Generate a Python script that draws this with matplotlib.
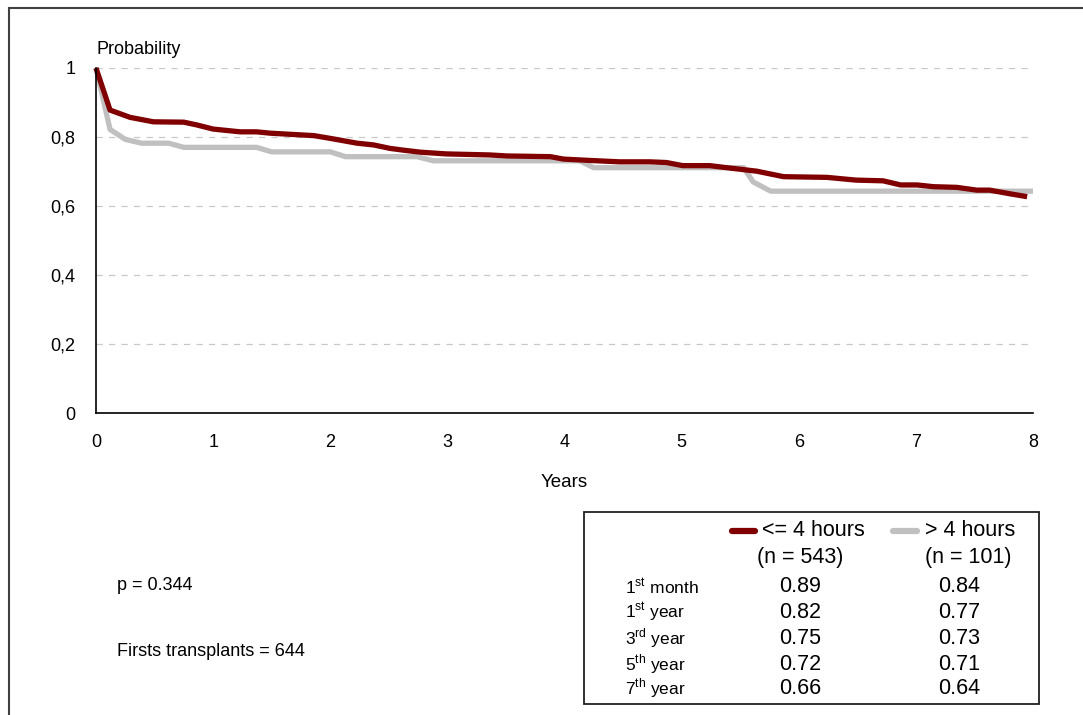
import matplotlib
matplotlib.use("Agg")
import matplotlib.pyplot as plt
from matplotlib.patches import Rectangle
from matplotlib.lines import Line2D

plt.rcParams['font.family'] = ['Liberation Sans', 'DejaVu Sans']
plt.rcParams['mathtext.fontset'] = 'custom'
plt.rcParams['mathtext.rm'] = 'Liberation Sans'

# survival curve <= 4 hours (years, probability)
short_x = [0, 0.12, 0.29, 0.49, 0.75, 0.86, 1.0, 1.23, 1.37, 1.49, 1.86, 2.0, 2.23, 2.37,
           2.51, 2.62, 2.77, 2.99, 3.36, 3.51, 3.88, 3.99, 4.16, 4.47, 4.73, 4.87, 5.01,
           5.24, 5.36, 5.64, 5.87, 6.24, 6.49, 6.72, 6.87, 7.01, 7.15, 7.35, 7.52, 7.63,
           7.81, 7.95]
short_y = [1.0, 0.878, 0.857, 0.844, 0.843, 0.835, 0.823, 0.815, 0.815, 0.811, 0.804, 0.796,
           0.782, 0.777, 0.767, 0.762, 0.756, 0.751, 0.748, 0.745, 0.743, 0.736, 0.733,
           0.728, 0.728, 0.726, 0.717, 0.717, 0.712, 0.701, 0.685, 0.683, 0.675, 0.673,
           0.661, 0.661, 0.656, 0.654, 0.646, 0.646, 0.635, 0.627]

# survival curve > 4 hours
long_x = [0, 0.12, 0.25, 0.39, 0.62, 0.75, 1.37, 1.50, 2.0, 2.13, 2.74, 2.88, 4.13, 4.25,
          5.53, 5.61, 5.76, 8.0]
long_y = [1.0, 0.822, 0.793, 0.782, 0.782, 0.770, 0.770, 0.757, 0.757, 0.743, 0.743, 0.731,
          0.731, 0.711, 0.711, 0.670, 0.643, 0.643]

y_ticks = [0, 0.2, 0.4, 0.6, 0.8, 1.0]
y_labels = ['0', '0,2', '0,4', '0,6', '0,8', '1']
x_ticks = list(range(9))

group_names = ['<= 4 hours', '> 4 hours']
group_n = ['(n = 543)', '(n = 101)']
row_labels = ['1$^{\\mathregular{st}}$ month', '1$^{\\mathregular{st}}$ year',
              '3$^{\\mathregular{rd}}$ year', '5$^{\\mathregular{th}}$ year',
              '7$^{\\mathregular{th}}$ year']
short_vals = ['0.89', '0.82', '0.75', '0.72', '0.66']
long_vals = ['0.84', '0.77', '0.73', '0.71', '0.64']

RED = '#800000'
GREY = '#c0c0c0'

fig = plt.figure(figsize=(10.83, 7.15), dpi=100)
W, H = 1083, 715

def fx(px):
    return px / W

def fy(py):
    return 1 - py / H

# outer frame (runs off the right and bottom edge)
fig.patches.append(Rectangle((fx(9), -0.05), 1.2, fy(8) + 0.05, transform=fig.transFigure,
                             fill=False, edgecolor='#404040', linewidth=1.5))

ax = fig.add_axes([fx(96), fy(413), fx(1033) - fx(96), fy(68) - fy(413)])
ax.plot(long_x, long_y, color=GREY, linewidth=3.8, clip_on=False, solid_capstyle='butt')
ax.plot(short_x, short_y, color=RED, linewidth=3.8, clip_on=False, solid_capstyle='butt')
ax.set_xlim(0, 8)
ax.set_ylim(0, 1)
ax.set_xticks(x_ticks)
ax.set_yticks(y_ticks)
ax.set_yticklabels(y_labels)
ax.tick_params(length=0, labelsize=13)
ax.tick_params(axis='y', pad=15)
ax.tick_params(axis='x', pad=15)
for y in y_ticks[1:]:
    ax.axhline(y, color='#c8c8c8', linewidth=0.9, dashes=(5, 5), zorder=0)
for s in ['top', 'right']:
    ax.spines[s].set_visible(False)
for s in ['left', 'bottom']:
    ax.spines[s].set_linewidth(1.2)
ax.set_xlabel('Years', fontsize=13.5, labelpad=17)
fig.text(fx(96), fy(50), 'Probability', fontsize=13, va='center', ha='left')

fig.text(fx(117), fy(585), 'p = 0.344', fontsize=13, va='center')
fig.text(fx(117), fy(652), 'Firsts transplants = 644', fontsize=13, va='center')

# summary box
fig.patches.append(Rectangle((fx(584), fy(704)), fx(1039) - fx(584), fy(512) - fy(704),
                             transform=fig.transFigure, fill=False,
                             edgecolor='#202020', linewidth=1.3))
for (x0, x1, tx, ncx), col, name, n in zip([(732, 755, 762, 800), (893, 917, 925, 968)],
                                          [RED, GREY], group_names, group_n):
    fig.lines.append(Line2D([fx(x0), fx(x1)], [fy(531), fy(531)], transform=fig.transFigure,
                            color=col, linewidth=4.5, solid_capstyle='round'))
    fig.text(fx(tx), fy(531), name, fontsize=15.5, va='center', ha='left')
    fig.text(fx(ncx), fy(558), n, fontsize=15.5, va='center', ha='center')

row_y = [587, 612, 638, 664, 688]
for yy, lab, a, b in zip(row_y, row_labels, short_vals, long_vals):
    fig.text(fx(625), fy(yy), lab, fontsize=12.5, va='center', ha='left')
    fig.text(fx(800), fy(yy), a, fontsize=15.5, va='center', ha='center')
    fig.text(fx(959), fy(yy), b, fontsize=15.5, va='center', ha='center')

fig.savefig('out.png', dpi=100)
